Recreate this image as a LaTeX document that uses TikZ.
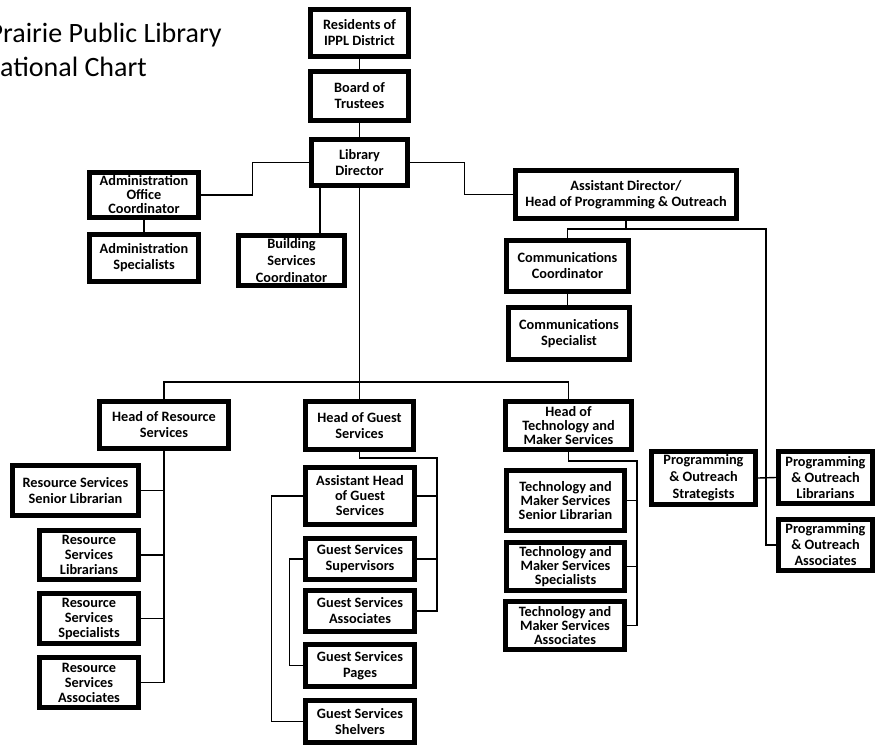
\documentclass[tikz,border=0pt]{standalone}
\usepackage{fontspec}
\setmainfont{Carlito}
\tikzset{
    box/.style={draw, line width=5pt, align=center, inner sep=1pt,
        font=\bfseries\fontsize{14.3}{#1}\selectfont},
    box/.default=16,
    link/.style={line width=1.4pt},
    heading/.style={anchor=base west, inner sep=0pt, font=\fontsize{28}{34}\selectfont}
}

\begin{document}
\begin{tikzpicture}[x=1pt,y=-1pt]
\useasboundingbox (0,0) rectangle (876,747);
\clip (0,0) rectangle (876,747);

\node[heading] (title1) at (-11.5,42) {Prairie Public Library};
\node[heading] (title2) at (0,76.5) {ational Chart};

% top of the chart
\node[box, minimum width=98, minimum height=47] (res) at (359.5,33) {Residents of\\IPPL District};
\node[box, minimum width=98, minimum height=49] (board) at (359.5,96) {Board of\\Trustees};
\node[box, minimum width=96, minimum height=46] (dir) at (359.5,162.5) {Library\\Director};

\node[box=14, minimum width=109, minimum height=45] (admoff) at (144,195) {Administration\\Office\\Coordinator};
\node[box, minimum width=109, minimum height=47] (admspec) at (144,258) {Administration\\Specialists};
\node[box=17, minimum width=106, minimum height=50] (bldg) at (291.5,260.5) {Building\\Services\\Coordinator};

\node[box, minimum width=221, minimum height=48] (asst) at (626,194.5) {Assistant Director/\\Head of Programming \& Outreach};
\node[box, minimum width=122, minimum height=51] (commco) at (567.5,266) {Communications\\Coordinator};
\node[box, minimum width=121, minimum height=52] (commsp) at (569,333.5) {Communications\\Specialist};

% resource services
\node[box, minimum width=129, minimum height=47] (headres) at (164,425) {Head of Resource\\Services};
\node[box, minimum width=126, minimum height=50] (rssen) at (75.5,490.5) {Resource Services\\Senior Librarian};
\node[box=15, minimum width=99, minimum height=49] (rslib) at (89,555) {Resource\\Services\\Librarians};
\node[box=15, minimum width=99, minimum height=50] (rsspec) at (89,618.5) {Resource\\Services\\Specialists};
\node[box=15, minimum width=99, minimum height=50] (rsassoc) at (89,682.5) {Resource\\Services\\Associates};

% guest services
\node[box, minimum width=108, minimum height=48] (headguest) at (359.5,425.5) {Head of Guest\\Services};
\node[box=15, minimum width=109, minimum height=57] (gasst) at (360,496) {Assistant Head\\of Guest\\Services};
\node[box, minimum width=109, minimum height=41] (gsup) at (360,559) {Guest Services\\Supervisors};
\node[box, minimum width=109, minimum height=41] (gassoc) at (360,611) {Guest Services\\Associates};
\node[box, minimum width=109, minimum height=42] (gpages) at (360,665.5) {Guest Services\\Pages};
\node[box, minimum width=109, minimum height=42] (gshelv) at (360,721.5) {Guest Services\\Shelvers};

% technology and maker services
\node[box=14, minimum width=126, minimum height=48] (headtech) at (568.5,425.5) {Head of\\Technology and\\Maker Services};
\node[box=14, minimum width=118, minimum height=60] (tsen) at (565.5,500.5) {Technology and\\Maker Services\\Senior Librarian};
\node[box=14, minimum width=118, minimum height=48] (tspec) at (565.5,566.5) {Technology and\\Maker Services\\Specialists};
\node[box=14, minimum width=119, minimum height=48] (tassoc) at (565,625.5) {Technology and\\Maker Services\\Associates};

% programming and outreach
\node[box=17, minimum width=104, minimum height=53] (postrat) at (703.5,478) {Programming\\\& Outreach\\Strategists};
\node[box, minimum width=94, minimum height=52] (polib) at (825.5,477.5) {Programming\\\& Outreach\\Librarians};
\node[box, minimum width=94, minimum height=51] (poassoc) at (825.5,545) {Programming\\\& Outreach\\Associates};

% connectors
\draw[link] (res) -- (board);
\draw[link] (board) -- (dir);
\draw[link] (dir.west) -- ++(-56.5,0) |- (admoff.east);
\draw[link] (admoff) -- (admspec);
\draw[link] (bldg.north) ++(28.5,0) coordinate (b1) -- (b1 |- dir.south);

\coordinate (bus) at (359.5,382);
\draw[link] (dir.south) -- (headguest.north);
\draw[link] (headres.north) |- (bus) -| (headtech.north);

\coordinate (abus) at (626,229);
\coordinate (pbus) at (766,229);
\draw[link] (dir.east) -- ++(54.5,0) |- (asst.west);
\draw[link] (asst.south) -- (abus);
\draw[link] (commco.north) |- (pbus) |- (poassoc.west);
\draw[link] (commco.south) -- (commco.south |- commsp.north);
\draw[link] (postrat.east) -- (polib.west);

\draw[link] (headres.south) |- (rsassoc.east);
\foreach \n in {rssen,rslib,rsspec}
    \draw[link] (\n.east) -- (\n.east -| headres.south);

\coordinate (gbus) at (437,458);
\draw[link] (headguest.south) |- (gbus) |- (gassoc.east);
\foreach \n in {gasst,gsup}
    \draw[link] (\n.east) -- (\n.east -| gbus);
\draw[link] (gasst.west) -- ++(-31.5,0) |- (gshelv.west);
\draw[link] (gsup.west) -- ++(-13.5,0) |- (gpages.west);

\coordinate (tbus) at (637,461);
\draw[link] (headtech.south) |- (tbus) |- (tassoc.east);
\foreach \n in {tsen,tspec}
    \draw[link] (\n.east) -- (\n.east -| tbus);
\end{tikzpicture}
\end{document}
